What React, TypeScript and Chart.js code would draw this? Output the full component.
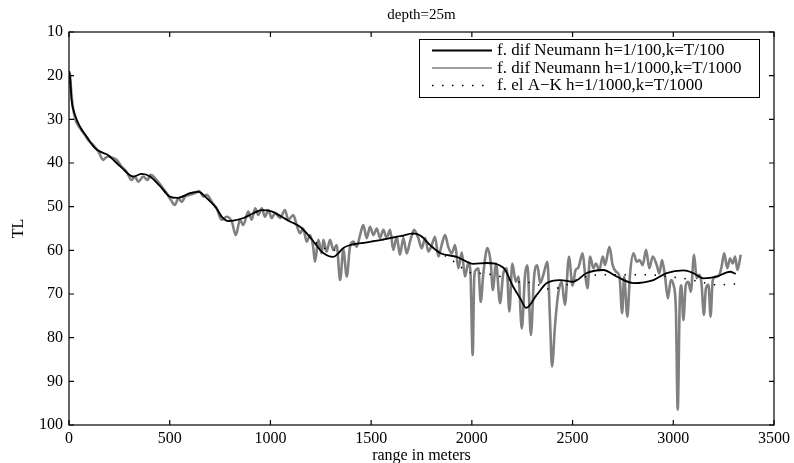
import React, { useEffect, useRef } from 'react';
import { Chart, registerables } from 'chart.js';

Chart.register(...registerables);

const chartTitle = 'depth=25m';
const xAxisLabel = 'range in meters';
const yAxisLabel = 'TL';
const seriesLabels = [
  'f. dif Neumann h=1/100,k=T/100',
  'f. dif Neumann h=1/1000,k=T/1000',
  'f. el A\u2212K h=1/1000,k=T/1000',
];
const xTicks = [0, 500, 1000, 1500, 2000, 2500, 3000, 3500];
const yTicks = [10, 20, 30, 40, 50, 60, 70, 80, 90, 100];

// f. dif Neumann h=1/100
const coarseX = [0, 5, 13, 30, 55, 88, 129, 160, 195, 220, 260, 319, 361, 402, 450, 501, 540, 601, 642, 690, 733, 758, 790, 816, 866, 915, 957, 1006, 1056, 1097, 1147, 1188, 1221, 1254, 1288, 1312, 1337, 1361, 1395, 1461, 1530, 1594, 1650, 1710, 1750, 1793, 1842, 1925, 2008, 2074, 2157, 2206, 2240, 2270, 2322, 2372, 2438, 2504, 2570, 2653, 2719, 2802, 2901, 2967, 3050, 3099, 3150, 3216, 3282, 3310];
const coarseY = [19, 20.3, 25.6, 29, 31.7, 34, 36.6, 37.5, 38.2, 39.3, 41, 43.1, 42.5, 43.1, 45.2, 47.7, 48.0, 46.9, 46.6, 48.3, 50.4, 52.3, 53.3, 53.2, 52.6, 51.5, 50.8, 51.1, 52.3, 53.4, 54.6, 56.5, 58.4, 60.3, 61.3, 61.5, 60.7, 59.5, 58.8, 58.3, 57.8, 57.2, 56.7, 56.1, 56.8, 58.8, 60.6, 61.5, 63.1, 62.9, 64, 68.4, 71, 73.2, 70.2, 67.5, 66.8, 67.2, 65.2, 64.5, 66, 67.5, 66.8, 65.2, 64.6, 65.2, 66.4, 66, 64.9, 65.4];

// f. dif Neumann h=1/1000
const fineX = [0, 5, 13, 30, 55, 79, 100, 121, 146, 170, 179, 195, 220, 237, 261, 286, 311, 328, 344, 369, 389, 405, 435, 460, 485, 506, 526, 543, 560, 576, 601, 626, 647, 667, 684, 709, 733, 758, 783, 808, 828, 849, 865, 890, 907, 924, 940, 957, 973, 990, 1006, 1023, 1048, 1072, 1089, 1114, 1130, 1147, 1163, 1180, 1197, 1213, 1221, 1238, 1254, 1263, 1279, 1296, 1312, 1329, 1346, 1362, 1379, 1395, 1412, 1428, 1445, 1461, 1478, 1494, 1511, 1528, 1544, 1561, 1577, 1594, 1610, 1627, 1643, 1660, 1677, 1693, 1713, 1734, 1751, 1768, 1784, 1801, 1817, 1834, 1850, 1867, 1883, 1900, 1917, 1933, 1950, 1966, 1983, 1993, 2004, 2012, 2020, 2032, 2044, 2057, 2077, 2094, 2104, 2120, 2140, 2156, 2173, 2186, 2201, 2218, 2231, 2248, 2264, 2276, 2293, 2309, 2325, 2339, 2355, 2375, 2388, 2398, 2413, 2429, 2446, 2462, 2482, 2500, 2515, 2528, 2550, 2562, 2574, 2587, 2603, 2616, 2633, 2650, 2661, 2683, 2699, 2716, 2733, 2746, 2756, 2772, 2785, 2802, 2819, 2832, 2848, 2865, 2881, 2898, 2918, 2931, 2944, 2959, 2973, 2988, 3001, 3013, 3022, 3032, 3040, 3050, 3062, 3075, 3087, 3103, 3116, 3129, 3140, 3152, 3162, 3175, 3185, 3196, 3212, 3229, 3240, 3253, 3268, 3282, 3295, 3307, 3318, 3335];
const fineY = [19, 19.8, 24.8, 29.8, 32, 33.6, 35, 35.9, 37.4, 39.3, 38.9, 38.5, 38.9, 39.3, 40.8, 42, 43.9, 43.1, 44.3, 43.1, 43.9, 42.7, 43.9, 45.4, 46.9, 48.5, 49.6, 48.1, 48.9, 47.7, 47.3, 46.9, 46.4, 47.7, 47.3, 48.9, 50.4, 53, 52.3, 53.4, 56.5, 53, 54.2, 51.1, 53, 50.4, 51.9, 50.4, 52.3, 50.8, 52.6, 51.5, 52.6, 50.8, 53, 51.9, 54.2, 56.1, 55, 58, 56.5, 59.5, 62.6, 57.6, 60.7, 57.6, 60.3, 57.6, 59.9, 58.8, 66.8, 59.9, 66, 59.2, 58, 59.2, 56.5, 54.2, 57.2, 54.6, 56.5, 55, 57.2, 55.3, 57.2, 55.3, 59.9, 56.9, 61, 57.2, 60.7, 58, 55.3, 57.2, 59.5, 57.2, 60.3, 58.8, 56.9, 61.4, 58.8, 56.5, 59.2, 60.7, 58.8, 64.1, 60.5, 66, 62.8, 65, 84, 66, 64.5, 64.1, 71.8, 65.3, 59.5, 63, 69.1, 63, 72.1, 65.3, 64.1, 74, 63, 67.2, 66, 77.9, 65.6, 63.4, 79.4, 66, 63.4, 67.5, 65.6, 62.6, 75.9, 86.6, 77.1, 69.8, 67.2, 72.5, 61.5, 68.1, 64.5, 64, 60.7, 65.3, 68.7, 61.4, 64.1, 63, 64.5, 61.4, 63.4, 59.2, 63.4, 64.9, 66, 74.4, 66, 75.2, 65.6, 60.7, 62.6, 62.2, 63.4, 59.9, 64.1, 61.4, 63.4, 65.3, 62.2, 66, 71, 66.8, 67.9, 73.7, 96.5, 72, 68, 76, 68, 67.2, 69.5, 61, 66.4, 65.6, 67.5, 74.8, 68.7, 67.9, 75.2, 66.8, 66, 65.6, 63.7, 60.7, 64.1, 61.8, 63, 61.4, 64.5, 61];

// f. el A-K h=1/1000
const akX = [0, 5, 13, 30, 55, 88, 129, 160, 195, 220, 260, 319, 361, 402, 450, 501, 540, 601, 642, 690, 733, 758, 790, 816, 866, 915, 957, 1006, 1056, 1097, 1147, 1188, 1221, 1260, 1300, 1340, 1395, 1461, 1530, 1594, 1650, 1710, 1750, 1793, 1842, 1900, 1950, 1991, 2050, 2140, 2223, 2306, 2388, 2471, 2537, 2637, 2719, 2800, 2885, 2967, 3050, 3133, 3216, 3315];
const akY = [19, 20.3, 25.6, 29, 31.7, 34, 36.6, 37.5, 38.2, 39.3, 41, 43.1, 42.5, 43.1, 45.2, 47.7, 48.0, 46.9, 46.6, 48.3, 50.4, 52.3, 53.3, 53.2, 52.6, 51.5, 50.8, 51.1, 52.3, 53.4, 54.6, 56.5, 58, 59.3, 60, 59.8, 58.9, 58.3, 57.8, 57.2, 56.8, 56.3, 56.9, 58.8, 60.5, 62.2, 64, 65.1, 65.3, 66, 67.2, 67.5, 68.9, 67.9, 66.4, 65.6, 65.6, 65.6, 65.6, 66, 66.4, 67.2, 67.9, 67.7];

const pts = (xs: number[], ys: number[]) => xs.map((x, i) => ({ x, y: ys[i] }));

const FONT = '"Liberation Serif", "DejaVu Serif", serif';

const framePlugin = {
  id: 'matlabFrame',
  afterDraw(chart: any) {
    const { ctx, chartArea: a, scales } = chart;
    const xs = scales.x;
    const ys = scales.y;
    ctx.save();
    ctx.strokeStyle = '#000';
    ctx.lineWidth = 1.2;
    ctx.strokeRect(a.left, a.top, a.right - a.left, a.bottom - a.top);
    const L = 5;
    ctx.beginPath();
    xTicks.forEach((v) => {
      const px = xs.getPixelForValue(v);
      ctx.moveTo(px, a.bottom);
      ctx.lineTo(px, a.bottom - L);
      ctx.moveTo(px, a.top);
      ctx.lineTo(px, a.top + L);
    });
    yTicks.forEach((v) => {
      const py = ys.getPixelForValue(v);
      ctx.moveTo(a.left, py);
      ctx.lineTo(a.left + L, py);
      ctx.moveTo(a.right, py);
      ctx.lineTo(a.right - L, py);
    });
    ctx.stroke();

    // legend
    const bx = 419, by = 39, bw = 340, bh = 58;
    ctx.fillStyle = '#fff';
    ctx.fillRect(bx, by, bw, bh);
    ctx.lineWidth = 1;
    ctx.strokeStyle = '#000';
    ctx.strokeRect(bx + 0.5, by + 0.5, bw, bh);
    const rows = [50.5, 68, 85.5];
    chart.data.datasets.forEach((ds: any, i: number) => {
      const y = rows[i];
      ctx.beginPath();
      ctx.strokeStyle = ds.borderColor;
      ctx.lineWidth = i === 0 ? 2 : 1.5;
      ctx.setLineDash(ds.borderDash || []);
      ctx.moveTo(432, y);
      ctx.lineTo(492, y);
      ctx.stroke();
      ctx.setLineDash([]);
      ctx.fillStyle = '#000';
      ctx.font = `17px ${FONT}`;
      ctx.textAlign = 'left';
      ctx.textBaseline = 'middle';
      ctx.fillText(ds.label, 497, y + 0.5);
    });

    // titles
    const cx = (a.left + a.right) / 2;
    ctx.fillStyle = '#000';
    ctx.font = `15px ${FONT}`;
    ctx.textAlign = 'center';
    ctx.textBaseline = 'middle';
    ctx.fillText(chartTitle, cx, 15);
    ctx.font = `16px ${FONT}`;
    ctx.textBaseline = 'alphabetic';
    ctx.fillText(xAxisLabel, cx, 460);
    ctx.save();
    ctx.translate(23, (a.top + a.bottom) / 2);
    ctx.rotate(-Math.PI / 2);
    ctx.textBaseline = 'alphabetic';
    ctx.fillText(yAxisLabel, 0, 0);
    ctx.restore();
    ctx.restore();
  },
};

export default function App() {
  const ref = useRef<HTMLCanvasElement | null>(null);
  useEffect(() => {
    document.body.style.margin = '0';
    const canvas = ref.current;
    if (!canvas) return;
    const chart = new Chart(canvas, {
      type: 'line',
      data: {
        datasets: [
          {
            label: seriesLabels[0],
            data: pts(coarseX, coarseY),
            borderColor: '#000000',
            borderWidth: 1.8,
            pointRadius: 0,
            cubicInterpolationMode: 'monotone',
            order: 1,
          },
          {
            label: seriesLabels[1],
            data: pts(fineX, fineY),
            borderColor: '#808080',
            borderWidth: 2.6,
            pointRadius: 0,
            cubicInterpolationMode: 'monotone',
            order: 2,
          },
          {
            label: seriesLabels[2],
            data: pts(akX, akY),
            borderColor: '#000000',
            borderWidth: 1.5,
            borderDash: [1.5, 8.5],
            pointRadius: 0,
            cubicInterpolationMode: 'monotone',
            order: 0,
          },
        ] as any,
      },
      options: {
        animation: false,
        responsive: false,
        maintainAspectRatio: false,
        layout: { padding: { top: 32, right: 20, left: 0, bottom: 0 } },
        plugins: { legend: { display: false }, title: { display: false }, tooltip: { enabled: false } },
        events: [],
        scales: {
          x: {
            type: 'linear',
            min: 0,
            max: 3500,
            grid: { display: false, drawTicks: false },
            border: { display: false },
            ticks: {
              stepSize: 500,
              padding: 4,
              color: '#000',
              font: { family: FONT, size: 16 },
              maxRotation: 0,
              callback: (v: any) => String(v),
            },
            afterFit: (s: any) => { s.height = 38; },
          },
          y: {
            type: 'linear',
            min: 10,
            max: 100,
            reverse: true,
            grid: { display: false, drawTicks: false },
            border: { display: false },
            ticks: {
              stepSize: 10,
              padding: 6,
              color: '#000',
              font: { family: FONT, size: 16 },
              callback: (v: any) => String(v),
            },
            afterFit: (s: any) => { s.width = 69; },
          },
        },
      } as any,
      plugins: [framePlugin],
    });
    return () => chart.destroy();
  }, []);
  return (
    <div style={{ width: 794, height: 463, background: '#fff' }}>
      <canvas ref={ref} width={794} height={463} style={{ display: 'block' }} />
    </div>
  );
}
